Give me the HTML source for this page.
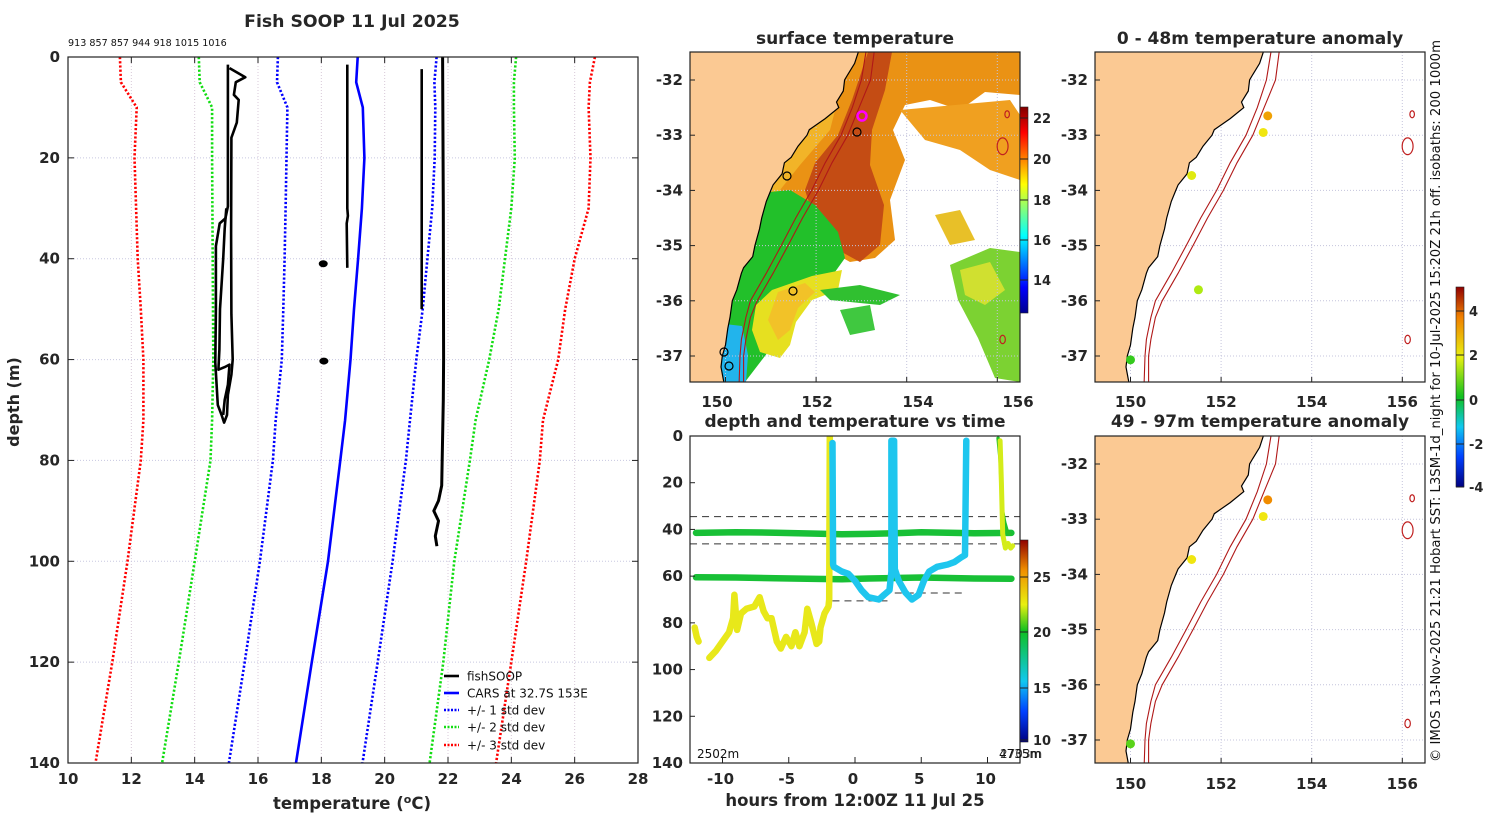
<!DOCTYPE html>
<html><head><meta charset="utf-8"><title>Fish SOOP 11 Jul 2025</title>
<style>
html,body{margin:0;padding:0;background:#fff;}
svg{display:block;font-family:"DejaVu Sans","Liberation Sans",sans-serif;}
.b{font-weight:bold;fill:#262626;}
</style></head>
<body>
<svg id="fig" width="1500" height="820" viewBox="0 0 1500 820" xmlns="http://www.w3.org/2000/svg">
<defs>
<linearGradient id="jet" x1="0" y1="1" x2="0" y2="0">
<stop offset="0" stop-color="#00008f"/><stop offset="0.125" stop-color="#0000ff"/><stop offset="0.375" stop-color="#00ffff"/><stop offset="0.625" stop-color="#ffff00"/><stop offset="0.875" stop-color="#ff0000"/><stop offset="1" stop-color="#800000"/>
</linearGradient>
<linearGradient id="jet2" x1="0" y1="1" x2="0" y2="0">
<stop offset="0" stop-color="#000080"/><stop offset="0.15" stop-color="#0040ff"/><stop offset="0.3" stop-color="#10c8f0"/><stop offset="0.55" stop-color="#10c020"/><stop offset="0.68" stop-color="#e8f010"/><stop offset="0.85" stop-color="#f09000"/><stop offset="1" stop-color="#900000"/>
</linearGradient>
<linearGradient id="jet3" x1="0" y1="1" x2="0" y2="0">
<stop offset="0" stop-color="#000080"/><stop offset="0.15" stop-color="#0040ff"/><stop offset="0.3" stop-color="#10c8f0"/><stop offset="0.45" stop-color="#10c020"/><stop offset="0.65" stop-color="#e8f010"/><stop offset="0.85" stop-color="#f08000"/><stop offset="1" stop-color="#900000"/>
</linearGradient>
<clipPath id="cm1"><rect x="690" y="52" width="330" height="330"/></clipPath>
<clipPath id="cm2"><rect x="1095" y="52" width="330" height="330"/></clipPath>
<clipPath id="cm3"><rect x="1095" y="436" width="330" height="327"/></clipPath>
<clipPath id="cl"><rect x="68" y="57" width="570" height="706"/></clipPath>
<clipPath id="ct"><rect x="690" y="436" width="330" height="327"/></clipPath>
</defs>
<g id="root"></g>
</svg>
<script>
// ---------- profile chart data ----------
const profDepths = [0,5,10,20,30,40,50,60,72,80,100,120,140];
const carsMean = [19.15,19.1,19.31,19.36,19.28,19.16,19.03,18.92,18.75,18.6,18.21,17.7,17.2];
const sd1Lo = [16.63,16.6,16.93,16.9,16.87,16.84,16.8,16.75,16.56,16.47,16.06,15.58,15.08];
const sd1Hi = [21.64,21.57,21.6,21.58,21.5,21.35,21.2,21.0,20.8,20.67,20.25,19.78,19.3];
const sd2Lo = [14.13,14.16,14.55,14.55,14.56,14.57,14.58,14.59,14.55,14.5,14.0,13.5,12.97];
const sd2Hi = [24.15,24.08,24.08,24.11,24.0,23.8,23.6,23.3,22.87,22.69,22.2,21.85,21.42];
const sd3Lo = [11.64,11.67,12.17,12.1,12.15,12.2,12.3,12.38,12.38,12.3,11.88,11.4,10.87];
const sd3Hi = [26.64,26.48,26.44,26.5,26.44,26.0,25.7,25.48,25.0,24.9,24.47,24.0,23.52];
const fishA_T = [15.05,15.05,14.97,14.79,14.67,14.67,14.65,14.73,14.85,14.93,15.02,15.05,15.16,15.2,15.16,15.15,15.16,15.33,15.39,15.24,15.3,15.6,15.1];
const fishA_D = [1.5,29.6,32,33,37.5,50,60.6,69,71,72.5,71,67,63,60,51,35,16,13,8.5,7.5,5,4,2.2];
const fishB_T = [15.0,14.95,14.9,14.85,14.8,14.78,14.75,14.95,15.1,15.05,14.95,14.9];
const fishB_D = [30,34,40,45,50,58,62,61.5,61,65,68,71];
const fishC_T = [18.82,18.82,18.84,18.8,18.82];
const fishC_D = [1.5,30,31.5,33,41.8];
const fishD_T = [21.17,21.17];
const fishD_D = [2.4,50];
const fishE_T = [21.83,21.85,21.86,21.85,21.8,21.7,21.55,21.7,21.6,21.65];
const fishE_D = [0,30,60,68,85,88,90,92,95,97];
const blobT = [18.06,18.08];
const blobD = [41,60.3];
const xTicks = [10,12,14,16,18,20,22,24,26,28];
const yTicks = [0,20,40,60,80,100,120,140];
const topCounts = "913 857 857 944 918 1015 1016";

// ---------- time chart data ----------
const yelH = [-12.1,-11.95,-11.8,-11.0,-10.5,-10.0,-9.5,-9.2,-9.1,-8.9,-8.6,-8.2,-7.6,-7.2,-6.9,-6.6,-6.3,-5.9,-5.6,-5.2,-4.8,-4.5,-4.2,-3.8,-3.6,-3.3,-2.9,-2.7,-2.6,-2.3,-2.0,-1.95,-1.9];
const yelD = [82,86,88,95,92,88,84,78,68,83,76,74,73,69,75,78,78,88,91,86,90,84,90,84,74,80,89,88,82,76,73,70,0];
const cyaH = [-1.7,-1.65,-1.6,-1.0,-0.5,0,0.5,1.0,1.8,2.2,2.6,2.75,2.75,2.95,3.0,3.3,3.8,4.3,4.8,5.2,5.6,6.2,7.0,7.5,8.0,8.3,8.4];
const cyaD = [3,55,56,58,59,62,66,69,70,68,66,58,2,2,57,62,67,70,68,62,58,56,55,54,52,51,2];
const g42H = [-12,-9,-6,-3,-1,1,3,5,7,9,11.8];
const g42D = [41.5,41.2,41.4,41.8,42.1,41.9,41.6,41.2,41.4,41.6,41.5];
const g61H = [-12,-9,-6,-3,-1,1,3,5,7,9,11.8];
const g61D = [60.5,60.6,60.9,61.2,61.3,61.0,60.8,60.6,60.8,61.0,61.1];
const endGH = [10.8,10.95,11.1,11.3,11.5,11.7];
const endGD = [1,10,31,37,41,42];
const endYH = [10.95,11.05,11.15,11.35,11.55,11.75,11.9];
const endYD = [2,20,42,48,46,48,47];
const dashDepth = [34.5,46.2,70.6,67.2];
const dashStart = [-12.45,-12.45,-1.7,3.0];
const dashEnd = [12.45,12.45,2.7,8.4];
const hourTicks = [-10,-5,0,5,10];

// ---------- map data ----------
const coastLon = [152.93,152.85,152.7,152.63,152.6,152.45,152.5,152.2,151.85,151.8,151.6,151.45,151.3,151.25,151.05,151.0,150.9,150.8,150.75,150.65,150.6,150.4,150.35,150.25,150.15,150.1,150.05,150.0,149.93,149.9,149.97];
const coastLat = [-31.5,-31.7,-31.9,-32.0,-32.2,-32.4,-32.5,-32.7,-32.9,-33.0,-33.2,-33.4,-33.5,-33.7,-33.9,-34.0,-34.2,-34.5,-34.7,-35.0,-35.2,-35.4,-35.5,-35.8,-36.0,-36.3,-36.5,-36.8,-37.0,-37.2,-37.5];
const iso200Lon = [153.1,153.0,152.8,152.55,152.2,151.9,151.55,151.23,150.9,150.55,150.45,150.35,150.32,150.3];
const iso200Lat = [-31.5,-32.0,-32.5,-33.0,-33.5,-34.0,-34.5,-35.0,-35.5,-36.0,-36.3,-36.7,-37.0,-37.5];
const iso1000Lon = [153.28,153.2,152.95,152.7,152.35,152.05,151.7,151.38,151.05,150.7,150.55,150.45,150.4,150.4];
const iso1000Lat = iso200Lat;
const obsLon = [153.03,152.93,151.35,151.5,150.0];
const obsLat = [-32.65,-32.95,-33.73,-35.8,-37.07];
const anomTop = [3.0,2.0,1.8,1.3,0.3];
const anomBot = [3.3,2.0,2.0,null,0.6];
const latTicks = [-32,-33,-34,-35,-36,-37];
const lonTicks = [150,152,154,156];
const seamountLon = [156.35,156.25,156.25];
const seamountLat = [-32.62,-33.2,-36.7];
const seamountR = [0.05,0.12,0.06];

const NS='http://www.w3.org/2000/svg';
const root=document.getElementById('root');
function mk(tag,attrs,parent){const e=document.createElementNS(NS,tag);for(const k in attrs)e.setAttribute(k,attrs[k]);(parent||root).appendChild(e);return e;}
function txt(x,y,s,attrs,parent){const e=mk('text',Object.assign({x:x,y:y},attrs||{}),parent);e.textContent=s;return e;}

const px=t=>68+(t-10)*570/18;
const py=d=>57+d*706/140;
function poly(xs,ys,fx,fy){return xs.map((v,i)=>fx(v).toFixed(1)+','+fy(ys[i]).toFixed(1)).join(' ');}

let t;
t=txt(352,27,'Fish SOOP 11 Jul 2025',{'text-anchor':'middle','font-size':'17.3',class:'b'});


t=txt(68,46,topCounts,{'font-size':'9.6',fill:'#111'});



const gl=mk('g',{});


xTicks.forEach(v=>{mk('line',{x1:px(v),x2:px(v),y1:57,y2:763,stroke:'#d8c8d8','stroke-width':1,'stroke-dasharray':'1 2'},gl);});
yTicks.forEach(v=>{mk('line',{x1:68,x2:638,y1:py(v),y2:py(v),stroke:'#c8c8e0','stroke-width':1,'stroke-dasharray':'1 2'},gl);});

const pl=mk('g',{'clip-path':'url(#cl)'});
function dline(xs,name,color){
  const e=mk('polyline',{points:poly(xs,profDepths,px,py),fill:'none',stroke:color,'stroke-width':2.6,'stroke-dasharray':'2.2 2'},pl);
  
  
}
dline(sd3Lo,'cars-minus-3sd','#ff0000');
dline(sd3Hi,'cars-plus-3sd','#ff0000');
dline(sd2Lo,'cars-minus-2sd','#11dd11');
dline(sd2Hi,'cars-plus-2sd','#11dd11');
dline(sd1Lo,'cars-minus-1sd','#0000ff');
dline(sd1Hi,'cars-plus-1sd','#0000ff');
let e=mk('polyline',{points:poly(carsMean,profDepths,px,py),fill:'none',stroke:'#0000ff','stroke-width':2.6},pl);


[[fishA_T,fishA_D],[fishB_T,fishB_D],[fishC_T,fishC_D],[fishD_T,fishD_D],[fishE_T,fishE_D]].forEach((p,i)=>{
  const f=mk('polyline',{points:poly(p[0],p[1],px,py),fill:'none',stroke:'#000','stroke-width':i==4?3:2.6,'stroke-linejoin':'round'},pl);
  
  
});
blobT.forEach((v,i)=>{
  const b=mk('ellipse',{cx:px(v),cy:py(blobD[i]),rx:4.5,ry:3.5,fill:'#000'},pl);
  
  
});
const fr=mk('rect',{x:68,y:57,width:570,height:706,fill:'none',stroke:'#222','stroke-width':1.2});


xTicks.forEach(v=>{
  mk('line',{x1:px(v),x2:px(v),y1:763,y2:757,stroke:'#222'});mk('line',{x1:px(v),x2:px(v),y1:57,y2:63,stroke:'#222'});
  const l=txt(px(v),784,String(v),{'text-anchor':'middle','font-size':'15',class:'b'});
  
  
});
yTicks.forEach(v=>{
  mk('line',{x1:68,x2:74,y1:py(v),y2:py(v),stroke:'#222'});mk('line',{x1:638,x2:632,y1:py(v),y2:py(v),stroke:'#222'});
  const l=txt(60,py(v)+5,String(v),{'text-anchor':'end','font-size':'15',class:'b'});
  
  
});
t=txt(352,809,'',{'text-anchor':'middle','font-size':'16.5',class:'b'});
t.innerHTML='temperature (<tspan dy="-6" font-size="11">o</tspan><tspan dy="6">C)</tspan>';


t=txt(19,402,'depth (m)',{'text-anchor':'middle','font-size':'16',class:'b',transform:'rotate(-90 19 402)'});


const legNames=['fishSOOP','CARS at 32.7S 153E','+/- 1 std dev','+/- 2 std dev','+/- 3 std dev'];
const legCol=['#000','#0000ff','#0000ff','#11dd11','#ff0000'];
const legY=[676,693,710,727,745];
legNames.forEach((n,i)=>{
  const g=mk('g',{});
  
  
  mk('line',{x1:444,x2:459,y1:legY[i],y2:legY[i],stroke:legCol[i],'stroke-width':2.6,'stroke-dasharray':i>1?'2 1.5':'none'},g);
  txt(467,legY[i]+4.5,n,{'font-size':'12',fill:'#111'},g);
});

function mapX(lon,x0){return x0+35.5+(lon-150)*45.3;}
function mapY(lat,y0){return y0+28+(-32-lat)*55.2;}
function drawMapBase(x0,y0,h,clip,name,withHeat){
  const g=mk('g',{});
  
  
  const gc=mk('g',{'clip-path':'url(#'+clip+')'},g);
  mk('rect',{x:x0,y:y0,width:330,height:h,fill:'#fff'},gc);
  if(withHeat) withHeat(gc);
  lonTicks.forEach(v=>mk('line',{x1:mapX(v,x0),x2:mapX(v,x0),y1:y0,y2:y0+h,stroke:'#c4c4dc','stroke-dasharray':'1 2'},gc));
  latTicks.forEach(v=>mk('line',{x1:x0,x2:x0+330,y1:mapY(v,y0),y2:mapY(v,y0),stroke:'#c4c4dc','stroke-dasharray':'1 2'},gc));
  let pts=coastLon.map((v,i)=>mapX(v,x0).toFixed(1)+','+mapY(coastLat[i],y0).toFixed(1)).join(' ');
  pts+=' '+x0+','+(y0+h+5)+' '+(x0-5)+','+(y0+h+5)+' '+(x0-5)+','+(y0-5)+' '+mapX(coastLon[0],x0)+','+(y0-5);
  const land=mk('polygon',{points:pts,fill:'#fbc993',stroke:'#000','stroke-width':1.2},gc);
  
  
  [iso200Lon,iso1000Lon].forEach((L,k)=>{
    const lat=k?iso1000Lat:iso200Lat;
    const iso=mk('polyline',{points:L.map((v,i)=>mapX(v,x0).toFixed(1)+','+mapY(lat[i],y0).toFixed(1)).join(' '),fill:'none',stroke:'#b01818','stroke-width':1.1},gc);
    
    
  });
  seamountLon.forEach((v,i)=>{
    const s=mk('ellipse',{cx:mapX(v,x0)-6,cy:mapY(seamountLat[i],y0),rx:seamountR[i]*45.3,ry:seamountR[i]*70,fill:'none',stroke:'#c02020','stroke-width':1.2},gc);
    
    
  });
  mk('rect',{x:x0,y:y0,width:330,height:h,fill:'none',stroke:'#222','stroke-width':1.2},g);
  latTicks.forEach(v=>{
    mk('line',{x1:x0,x2:x0+5,y1:mapY(v,y0),y2:mapY(v,y0),stroke:'#222'},g);
    const l=txt(x0-7,mapY(v,y0)+5,String(v),{'text-anchor':'end','font-size':'15',class:'b'},g);
    
    
  });
  lonTicks.forEach(v=>{
    mk('line',{x1:mapX(v,x0),x2:mapX(v,x0),y1:y0+h,y2:y0+h-5,stroke:'#222'},g);
  });
  return gc;
}
function heat(gc){
  const P=(pts,c)=>mk('polygon',{points:pts,fill:c},gc);
  P('690,52 880,52 840,120 800,170 775,200 760,250 745,330 730,382 690,382','#f2b428');
  P('850,52 1020,52 1020,95 985,92 960,110 930,100 905,105 893,130 905,160 890,200 895,240 875,258 850,262 820,245 795,215 780,190 800,165 830,130','#ea9214');
  P('868,52 892,52 885,90 872,130 870,165 884,205 880,245 860,262 838,250 815,222 805,190 815,163 838,135 852,100','#c44c14');
  P('690,200 790,190 815,205 838,232 845,258 835,272 805,282 778,300 762,330 768,352 745,382 690,382','#22c02a');
  P('772,290 812,276 842,270 838,290 812,300 796,322 790,345 780,358 760,352 752,330 756,305','#e6e020');
  P('778,292 805,283 815,292 798,308 790,330 778,340 768,320','#f2c228');
  P('690,320 742,326 748,355 746,382 690,382','#22b4ec');
  P('950,265 990,248 1020,252 1020,382 995,378 978,338 958,300','#7cd232');
  P('960,270 990,262 1005,290 985,305 965,295','#d0e030');
  P('935,215 960,210 975,240 950,245','#e8c028');
  P('900,110 1010,100 1020,115 1020,180 990,170 960,150 925,140','#f0a020');
  P('820,290 860,285 900,295 880,305 830,300','#30c030');
  P('840,310 870,305 875,330 850,335','#40c840');
}
t=txt(855,44,'surface temperature',{'text-anchor':'middle','font-size':'17',class:'b'});


const g1=drawMapBase(690,52,330,'cm1','sst-map',heat);
const circX=[857,787,793,724,729], circY=[132,176,291,352,366];
circX.forEach((x,i)=>{
  const c=mk('circle',{cx:x,cy:circY[i],r:4,fill:'none',stroke:'#000','stroke-width':1.2},g1);
  
  
});
e=mk('circle',{cx:862,cy:116,r:4.5,fill:'none',stroke:'#ff00ff','stroke-width':2.5},g1);


const sstLabX=[717,817,918,1018];
lonTicks.forEach((v,i)=>{
  const l=txt(sstLabX[i],407,String(v),{'text-anchor':'middle','font-size':'15',class:'b'});
  
  
});
function colorbar(x,y0,y1,grad,ticks,tickY,name){
  const g=mk('g',{});
  
  
  mk('rect',{x:x,y:y0,width:8,height:y1-y0,fill:'url(#'+grad+')',stroke:'#222','stroke-width':0.6},g);
  ticks.forEach((v,i)=>{
    mk('line',{x1:x,x2:x+8,y1:tickY[i],y2:tickY[i],stroke:'#222'},g);
    txt(x+13,tickY[i]+5,String(v),{'font-size':'13',class:'b'},g);
  });
}
colorbar(1020,107,313,'jet',[14,16,18,20,22],[280,240,200,159,118],'sst-colorbar');

const tx=h=>855+h*13.25;
const ty=d=>436+d*327/140;
t=txt(855,427,'depth and temperature vs time',{'text-anchor':'middle','font-size':'17',class:'b'});


const tg=mk('g',{'clip-path':'url(#ct)'});


dashDepth.forEach((d,i)=>{
  const l=mk('line',{x1:tx(dashStart[i]),x2:tx(dashEnd[i]),y1:ty(d),y2:ty(d),stroke:'#333','stroke-width':1,'stroke-dasharray':'7 5'},tg);
  
  
});
function tl(H,D,c,name,w){
  const l=mk('polyline',{points:poly(H,D,tx,ty),fill:'none',stroke:c,'stroke-width':w||6.5,'stroke-linejoin':'round','stroke-linecap':'round'},tg);
  
  
}
tl(g42H,g42D,'#18c036','series-42m');
tl(g61H,g61D,'#18c036','series-61m');
tl(yelH.slice(0,3),yelD.slice(0,3),'#e8e81a','series-yellow-start');
tl(yelH.slice(3),yelD.slice(3),'#e8e81a','series-yellow');
tl(cyaH,cyaD,'#1ec6ee','series-cyan');
tl(endGH,endGD,'#22c02a','series-end-green',3.5);
tl(endYH,endYD,'#d4ec1a','series-end-yellow',5);
mk('rect',{x:690,y:436,width:330,height:327,fill:'none',stroke:'#222','stroke-width':1.2});
hourTicks.forEach(v=>{
  mk('line',{x1:tx(v),x2:tx(v),y1:763,y2:757,stroke:'#222'});
  const l=txt(tx(v)-2,784,String(v),{'text-anchor':'middle','font-size':'15',class:'b'});
  
  
});
yTicks.forEach(v=>{
  mk('line',{x1:690,x2:695,y1:ty(v),y2:ty(v),stroke:'#222'});
  const l=txt(683,ty(v)+5,String(v),{'text-anchor':'end','font-size':'15',class:'b'});
  
  
});
t=txt(697,758,'2502m',{'font-size':'12',fill:'#111'});


t=txt(999,758,'4735m',{'font-size':'12',fill:'#111'});


t=txt(1000,758,'2703m',{'font-size':'12',fill:'#111','fill-opacity':'0.8'});


t=txt(855,806,'hours from 12:00Z 11 Jul 25',{'text-anchor':'middle','font-size':'16.5',class:'b'});


colorbar(1020,540,742,'jet2',[10,15,20,25],[740,688,632,577],'time-colorbar');

function anomColor(v){
  const stops=[[-4,[0,0,128]],[-3,[0,64,255]],[-1.5,[16,200,240]],[0,[16,192,32]],[1.5,[200,240,16]],[2,[240,230,16]],[3.3,[240,140,0]],[5,[144,0,0]]];
  for(let i=1;i<stops.length;i++){if(v<=stops[i][0]){const a=stops[i-1],b=stops[i],f=(v-a[0])/(b[0]-a[0]);return 'rgb('+a[1].map((c,k)=>Math.round(c+(b[1][k]-c)*f)).join(',')+')';}}
  return 'rgb(144,0,0)';
}
function anomMap(y0,h,clip,vals,title,titleY,name){
  const tt=txt(1260,titleY,title,{'text-anchor':'middle','font-size':'17',class:'b'});
  
  
  const gc=drawMapBase(1095,y0,h,clip,name,null);
  vals.forEach((v,i)=>{
    if(v===null) return;
    const c=mk('circle',{cx:mapX(obsLon[i],1095),cy:mapY(obsLat[i],y0),r:4.5,fill:anomColor(v)},gc);
    
    
  });
}
anomMap(52,330,'cm2',anomTop,'0 - 48m temperature anomaly',44,'anomaly-map-shallow');
anomMap(436,327,'cm3',anomBot,'49 - 97m temperature anomaly',427,'anomaly-map-deep');
[[402],[784]].forEach(r=>lonTicks.forEach(v=>{
  const l=txt(mapX(v,1095),r[0]+5,String(v),{'text-anchor':'middle','font-size':'15',class:'b'});
  
  
}));
colorbar(1456,287,487,'jet3',[4,2,0,-2,-4],[311,355,400,444,487],'anomaly-colorbar');
t=txt(1440,401,'\u00a9 IMOS 13-Nov-2025 21:21 Hobart SST: L3SM-1d_night for 10-Jul-2025 15:20Z 21h off. isobaths: 200  1000m',{'text-anchor':'middle','font-size':'13',fill:'#111',textLength:'722',lengthAdjust:'spacingAndGlyphs',transform:'rotate(-90 1440 401)'});


</script>
</body></html>
